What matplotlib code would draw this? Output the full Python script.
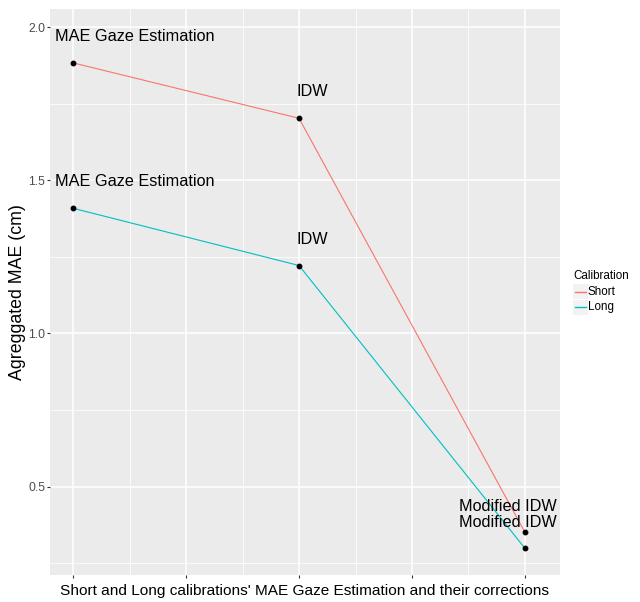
#!/usr/bin/env python3
"""MAE gaze estimation and corrections for short vs long calibrations (ggplot look)."""

import matplotlib

matplotlib.use("Agg")

import matplotlib.pyplot as plt
from matplotlib.patches import Rectangle
from matplotlib.lines import Line2D

plt.rcParams["font.family"] = ["Liberation Sans", "DejaVu Sans"]

# data
steps = [1, 2, 3]
step_labels = ["MAE Gaze Estimation", "IDW", "Modified IDW"]
short_mae = [1.884, 1.703, 0.350]
long_mae = [1.409, 1.222, 0.298]
series_names = ["Short", "Long"]
series_colors = ["#F8766D", "#00BFC4"]

# left edge of each text label relative to its point, in x data units
label_dx = [-0.080, -0.013, -0.292]
label_dy = 0.086

fig = plt.figure(figsize=(6.4, 6.02), dpi=100, facecolor="white")
ax = fig.add_axes([50 / 640, 1 - 575 / 602, 510 / 640, (575 - 9.3) / 602])
ax.set_facecolor("#EBEBEB")

ax.set_xlim(0.898, 3.155)
ax.set_ylim(0.211, 2.059)
ax.set_xticks([1, 1.5, 2, 2.5, 3])
ax.set_xticks([1.25, 1.75, 2.25, 2.75], minor=True)
ax.set_xticklabels([])
ax.set_yticks([0.5, 1.0, 1.5, 2.0])
ax.set_yticks([0.25, 0.75, 1.25, 1.75], minor=True)
ax.set_yticklabels(["0.5", "1.0", "1.5", "2.0"])
ax.grid(True, which="major", color="white", linewidth=1.1)
ax.grid(True, which="minor", color="white", linewidth=0.55)
ax.set_axisbelow(True)
ax.tick_params(which="major", length=2.3, width=0.8, color="#333333",
               labelsize=8.8, labelcolor="#4D4D4D", pad=1.0)
ax.tick_params(which="minor", length=0)
for spine in ax.spines.values():
    spine.set_visible(False)

for values, color in zip((short_mae, long_mae), series_colors):
    ax.plot(steps, values, color=color, linewidth=0.8, zorder=2)
    ax.plot(steps, values, linestyle="none", marker="o", markersize=3.2,
            color="black", zorder=3)
    for x, y, lab, dx in zip(steps, values, step_labels, label_dx):
        ax.text(x + dx, y + label_dy, lab, fontsize=11.7, ha="left",
                va="center", color="black", zorder=4)

ax.set_xlabel("Short and Long calibrations' MAE Gaze Estimation and their corrections",
              fontsize=11.1, labelpad=3)
ax.set_ylabel("Agreggated MAE (cm)", fontsize=12.8, labelpad=2)

# legend, drawn in figure pixels like ggplot's guide box
W, H = 640, 602
fig.text(573 / W, 1 - 276 / H, "Calibration", fontsize=8.4, ha="left", va="center")
for i, (name, color) in enumerate(zip(series_names, series_colors)):
    yc = 291.7 + i * 15.6
    fig.add_artist(Rectangle((573 / W, 1 - (yc + 7.6) / H), 14.5 / W, 15.2 / H,
                             transform=fig.transFigure, facecolor="#F2F2F2",
                             edgecolor="none"))
    fig.add_artist(Line2D([574.5 / W, 586 / W], [1 - yc / H, 1 - yc / H],
                          transform=fig.transFigure, color=color, linewidth=1.0))
    fig.text(588 / W, 1 - yc / H, name, fontsize=8.4, ha="left", va="center")

fig.savefig("out.png", dpi=100)
